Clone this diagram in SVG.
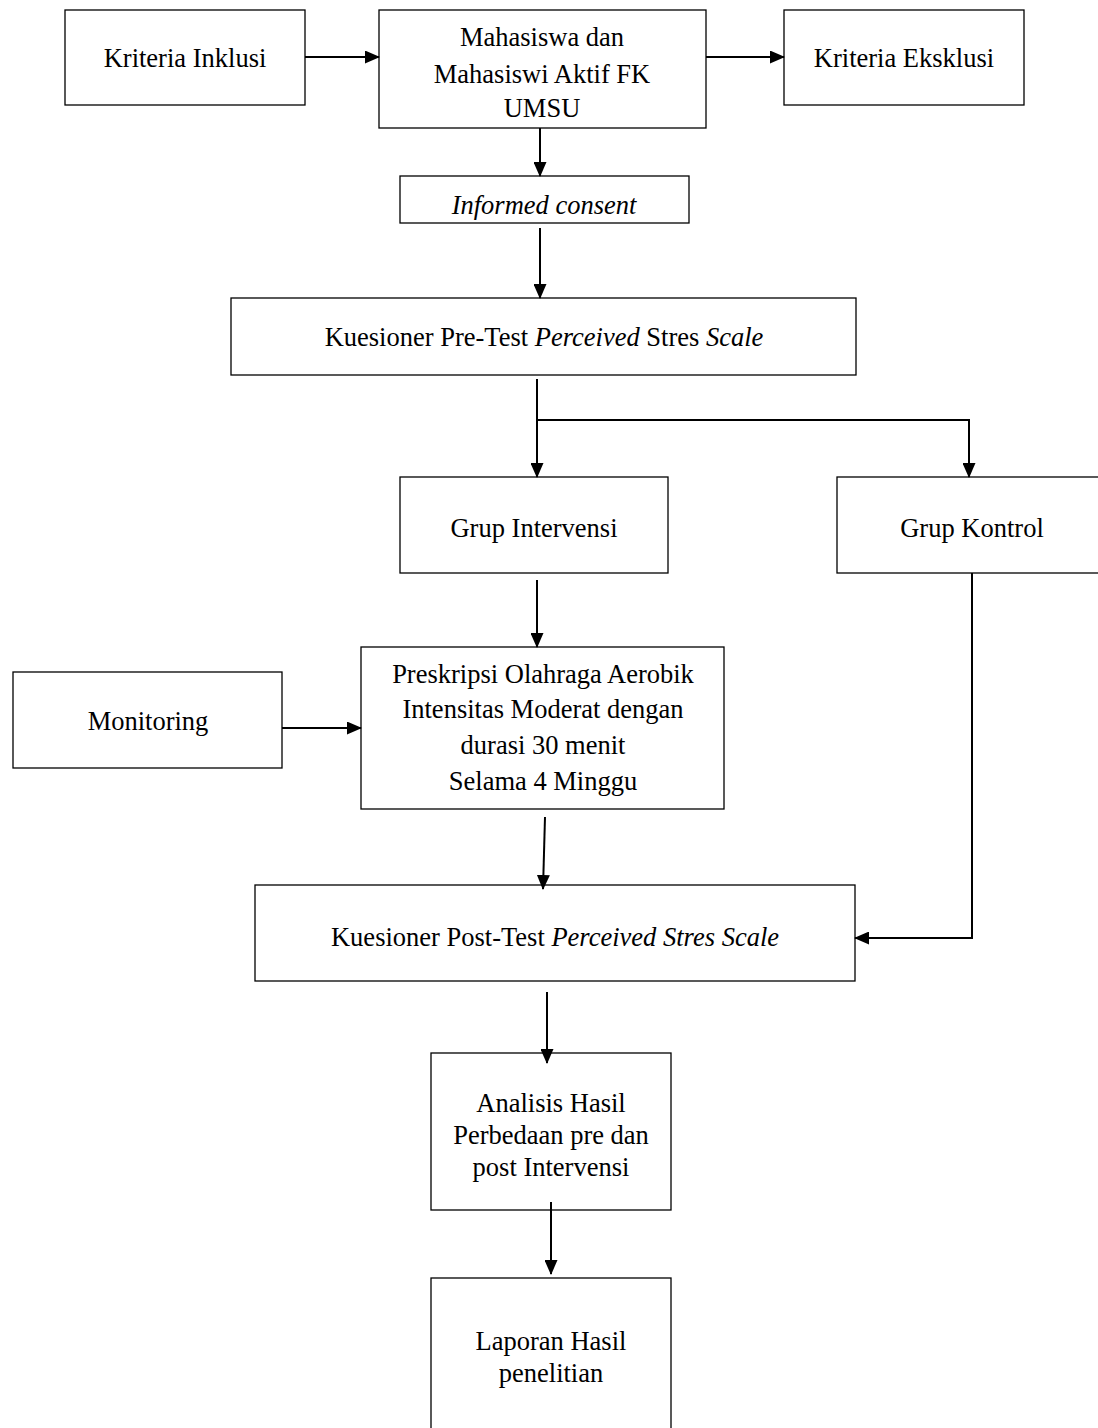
<svg xmlns="http://www.w3.org/2000/svg" width="1098" height="1428" viewBox="0 0 1098 1428">
<style>
.box{fill:#fff;stroke:#000;stroke-width:1.3}
.t{font-family:"Liberation Serif","Times New Roman",serif;font-size:26.5px;fill:#000;text-anchor:middle}
.i{font-style:italic}
.c{fill:none;stroke:#000;stroke-width:2}
</style>
<defs>
<marker id="ah" markerWidth="15" markerHeight="13" refX="14" refY="6.5" orient="auto" markerUnits="userSpaceOnUse">
<path d="M0,0 L15,6.5 L0,13 Z" fill="#000"/>
</marker>
</defs>
<rect width="1098" height="1428" fill="#fff"/>
<g id="n-inklusi"><rect class="box" x="65" y="10" width="240" height="95"/><text class="t" x="185" y="66.5">Kriteria Inklusi</text></g>
<g id="n-mahasiswa"><rect class="box" x="379" y="10" width="327" height="118"/><text class="t" x="542" y="46">Mahasiswa dan</text><text class="t" x="542" y="83">Mahasiswi Aktif FK</text><text class="t" x="542" y="116.5">UMSU</text></g>
<g id="n-eksklusi"><rect class="box" x="784" y="10" width="240" height="95"/><text class="t" x="904" y="66.5">Kriteria Eksklusi</text></g>
<g id="n-consent"><rect class="box" x="400" y="176" width="289" height="47"/><text class="t i" x="544" y="214">Informed consent</text></g>
<g id="n-pretest"><rect class="box" x="231" y="298" width="625" height="77"/><text class="t" x="544" y="346">Kuesioner Pre-Test <tspan class="i">Perceived</tspan> Stres <tspan class="i">Scale</tspan></text></g>
<g id="n-intervensi"><rect class="box" x="400" y="477" width="268" height="96"/><text class="t" x="534" y="537">Grup Intervensi</text></g>
<g id="n-kontrol"><rect class="box" x="837" y="477" width="265" height="96"/><text class="t" x="972" y="537">Grup Kontrol</text></g>
<g id="n-monitoring"><rect class="box" x="13" y="672" width="269" height="96"/><text class="t" x="148" y="730">Monitoring</text></g>
<g id="n-preskripsi"><rect class="box" x="361" y="647" width="363" height="162"/><text class="t" x="543" y="683">Preskripsi Olahraga Aerobik</text><text class="t" x="543" y="718">Intensitas Moderat dengan</text><text class="t" x="543" y="754">durasi 30 menit</text><text class="t" x="543" y="790">Selama 4 Minggu</text></g>
<g id="n-posttest"><rect class="box" x="255" y="885" width="600" height="96"/><text class="t" x="555" y="946">Kuesioner Post-Test <tspan class="i">Perceived Stres Scale</tspan></text></g>
<g id="n-analisis"><rect class="box" x="431" y="1053" width="240" height="157"/><text class="t" x="551" y="1112">Analisis Hasil</text><text class="t" x="551" y="1144">Perbedaan pre dan</text><text class="t" x="551" y="1176">post Intervensi</text></g>
<g id="n-laporan"><rect class="box" x="431" y="1278" width="240" height="160"/><text class="t" x="551" y="1350">Laporan Hasil</text><text class="t" x="551" y="1382">penelitian</text></g>
<g id="connectors">
<line class="c" x1="305" y1="57" x2="379" y2="57" marker-end="url(#ah)"/>
<line class="c" x1="706" y1="57" x2="784" y2="57" marker-end="url(#ah)"/>
<line class="c" x1="540" y1="128" x2="540" y2="176" marker-end="url(#ah)"/>
<line class="c" x1="540" y1="228" x2="540" y2="298" marker-end="url(#ah)"/>
<polyline class="c" points="537,379 537,477" marker-end="url(#ah)"/>
<polyline class="c" points="537,420 969,420 969,477" marker-end="url(#ah)"/>
<line class="c" x1="537" y1="580" x2="537" y2="647" marker-end="url(#ah)"/>
<line class="c" x1="282" y1="728" x2="361" y2="728" marker-end="url(#ah)"/>
<line class="c" x1="545" y1="817" x2="543" y2="889" marker-end="url(#ah)"/>
<polyline class="c" points="972,573 972,938 855,938" marker-end="url(#ah)"/>
<line class="c" x1="547" y1="992" x2="547" y2="1063" marker-end="url(#ah)"/>
<line class="c" x1="551" y1="1202" x2="551" y2="1274" marker-end="url(#ah)"/>
</g>
</svg>
